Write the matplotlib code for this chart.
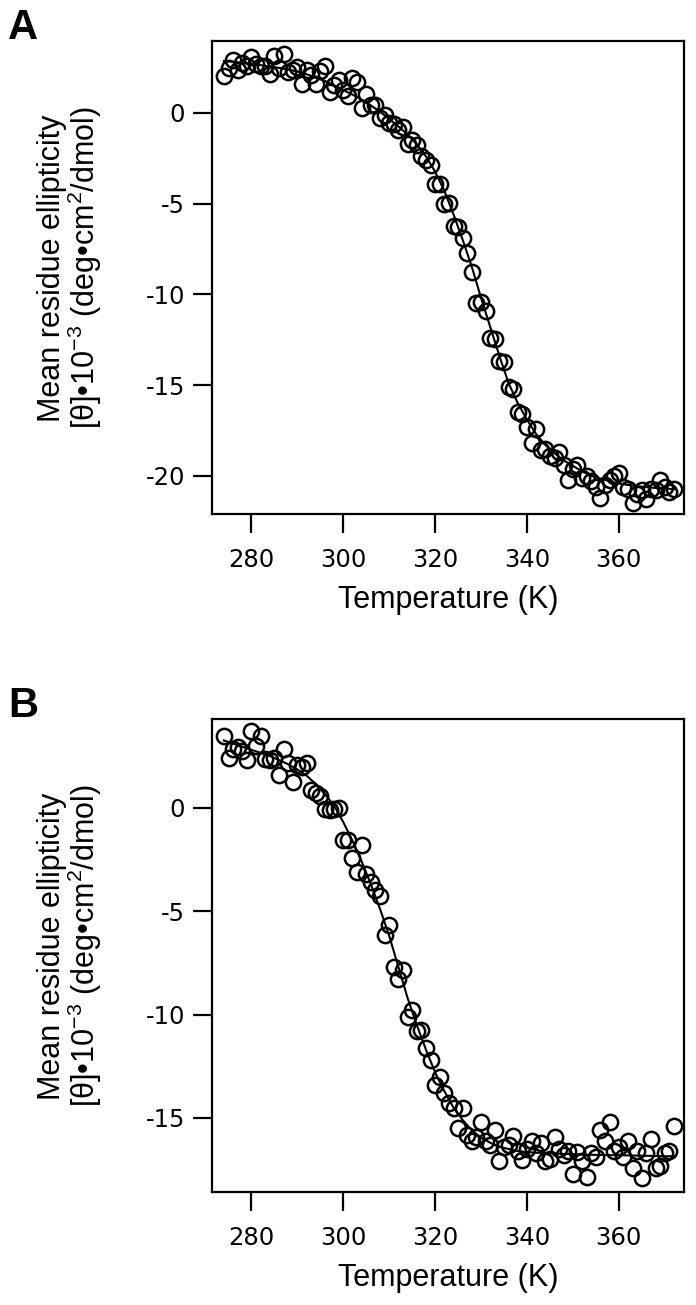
import numpy as np
import matplotlib
matplotlib.use("Agg")
import matplotlib.pyplot as plt

plt.rcParams['font.family'] = ['Liberation Sans', 'DejaVu Sans']
plt.rcParams['mathtext.fontset'] = 'custom'
plt.rcParams['mathtext.rm'] = 'Liberation Sans'
plt.rcParams['mathtext.it'] = 'Liberation Sans'
plt.rcParams['axes.unicode_minus'] = False

# temperatures of the measured points (K)
temp = np.array([
    274, 275, 276, 277, 278, 279, 280, 281, 282, 283, 284, 285, 286, 287, 288, 289, 290,
    291, 292, 293, 294, 295, 296, 297, 298, 299, 300, 301, 302, 303, 304, 305, 306, 307,
    308, 309, 310, 311, 312, 313, 314, 315, 316, 317, 318, 319, 320, 321, 322, 323, 324,
    325, 326, 327, 328, 329, 330, 331, 332, 333, 334, 335, 336, 337, 338, 339, 340, 341,
    342, 343, 344, 345, 346, 347, 348, 349, 350, 351, 352, 353, 354, 355, 356, 357, 358,
    359, 360, 361, 362, 363, 364, 365, 366, 367, 368, 369, 370, 371, 372])

# panel A: measured ellipticity
theta_a = np.array([
    2.0, 2.45, 2.9, 2.35, 2.75, 2.55, 3.05, 2.7, 2.55, 2.6, 2.15, 3.15, 2.45, 3.25, 2.25, 2.35, 2.5,
    1.6, 2.35, 2.05, 1.6, 2.3, 2.6, 1.15, 1.55, 1.8, 1.25, 0.9, 1.9, 1.7, 0.25, 1.05, 0.45, 0.4,
    -0.3, -0.15, -0.55, -0.6, -0.95, -0.8, -1.7, -1.5, -1.8, -2.4, -2.6, -2.9, -3.95, -3.9, -5.0, -4.95, -6.25,
    -6.3, -6.9, -7.75, -8.75, -10.5, -10.45, -10.9, -12.4, -12.45, -13.7, -13.75, -15.1, -15.2, -16.5, -16.6, -17.3, -18.2,
    -17.4, -18.6, -18.5, -18.9, -19.0, -18.7, -19.4, -20.2, -19.6, -19.4, -20.1, -20.0, -20.3, -20.6, -21.2, -20.5, -20.2,
    -20.0, -19.85, -20.6, -20.7, -21.5, -21.0, -20.8, -21.3, -20.7, -20.8, -20.2, -20.6, -20.9, -20.7])

# panel B: measured ellipticity
theta_b = np.array([
    3.45, 2.4, 2.85, 2.95, 2.75, 2.3, 3.7, 3.0, 3.45, 2.35, 2.3, 2.4, 1.6, 2.85, 2.15, 1.25, 2.05,
    1.95, 2.15, 0.85, 0.7, 0.55, -0.05, -0.1, -0.05, 0.0, -1.55, -1.55, -2.45, -3.1, -1.8, -3.2, -3.6, -4.0,
    -4.25, -6.15, -5.65, -7.7, -8.3, -7.85, -10.1, -9.8, -10.8, -10.75, -11.6, -12.2, -13.4, -13.0, -13.8, -14.3, -14.5,
    -15.5, -14.5, -15.8, -16.1, -15.9, -15.2, -16.1, -16.3, -15.6, -17.1, -16.4, -16.3, -15.85, -16.6, -17.05, -16.5, -16.1,
    -16.7, -16.2, -17.1, -17.0, -15.9, -16.5, -16.8, -16.6, -17.7, -16.65, -17.1, -17.85, -16.7, -16.9, -15.6, -16.1, -15.2,
    -16.6, -16.4, -16.9, -16.1, -17.4, -16.6, -17.9, -16.7, -16.0, -17.4, -17.3, -16.7, -16.6, -15.4])

# fitted curves, every 2 K
fit_t = np.array([
    274, 276, 278, 280, 282, 284, 286, 288, 290, 292, 294, 296, 298, 300, 302, 304, 306,
    308, 310, 312, 314, 316, 318, 320, 322, 324, 326, 328, 330, 332, 334, 336, 338, 340,
    342, 344, 346, 348, 350, 352, 354, 356, 358, 360, 362, 364, 366, 368, 370, 372])
fit_a = np.array([
    2.85, 2.8, 2.75, 2.7, 2.62, 2.55, 2.47, 2.38, 2.27, 2.12, 1.95, 1.75, 1.5, 1.25, 1.0, 0.72, 0.4,
    0.05, -0.35, -0.75, -1.2, -1.75, -2.4, -3.25, -4.3, -5.6, -7.0, -8.5, -10.2, -11.8, -13.4, -14.9, -16.0, -16.9,
    -17.7, -18.3, -18.75, -19.15, -19.45, -19.75, -20.0, -20.15, -20.3, -20.42, -20.5, -20.57, -20.62, -20.67, -20.7, -20.73])
fit_b = np.array([
    3.25, 3.1, 2.95, 2.8, 2.65, 2.5, 2.3, 2.1, 1.85, 1.55, 1.15, 0.65, 0.1, -0.7, -1.6, -2.6, -3.7,
    -4.9, -6.2, -7.7, -9.2, -10.5, -11.7, -12.8, -13.7, -14.5, -15.1, -15.6, -15.95, -16.2, -16.4, -16.5, -16.6, -16.65,
    -16.68, -16.7, -16.72, -16.74, -16.75, -16.77, -16.78, -16.79, -16.8, -16.8, -16.81, -16.82, -16.83, -16.84, -16.85, -16.85])

W, H = 696, 1305
fig = plt.figure(figsize=(W / 100, H / 100), dpi=100)

panels = [
    ("A", theta_a, fit_a, 514, (-22.1, 3.95), 41, [0, -5, -10, -15, -20]),
    ("B", theta_b, fit_b, 1192, (-18.58, 4.29), 719, [0, -5, -10, -15]),
]

for name, pts, fit, bottom_px, ylim, top_px, yt in panels:
    ax = fig.add_axes([212 / W, 1 - bottom_px / H, 472 / W, (bottom_px - top_px) / H])
    ax.plot(fit_t, fit, color='black', lw=1.5, zorder=2)
    ax.plot(temp, pts, 'o', mfc='none', mec='black', ms=11, mew=1.8, zorder=3)
    ax.set_xticks([280, 300, 320, 340, 360])
    ax.set_yticks(yt)
    ax.set_xlim(271.4, 374.2)
    ax.set_ylim(*ylim)
    for s in ax.spines.values():
        s.set_linewidth(1.6)
    ax.tick_params(direction='out', length=13.5, width=1.6, labelsize=17.5)
    ax.tick_params(axis='x', pad=11)
    ax.tick_params(axis='y', pad=6)
    for lbl in ax.get_xticklabels() + ax.get_yticklabels():
        lbl.set_fontfamily('DejaVu Sans')
    ax.set_xlabel("Temperature (K)", fontsize=22, labelpad=9)
    ax.set_ylabel("Mean residue ellipticity\n[θ]•10$^{-3}$ (deg•cm$^2$/dmol)",
                  fontsize=22, linespacing=0.95)
    ax.yaxis.set_label_coords((104 - 212) / 472, 0.52)
    fig.text(8 / W, 1 - (top_px - 33) / H, name, fontsize=30, fontweight='bold',
             va='top', ha='left')

fig.savefig("out.png", dpi=100)
